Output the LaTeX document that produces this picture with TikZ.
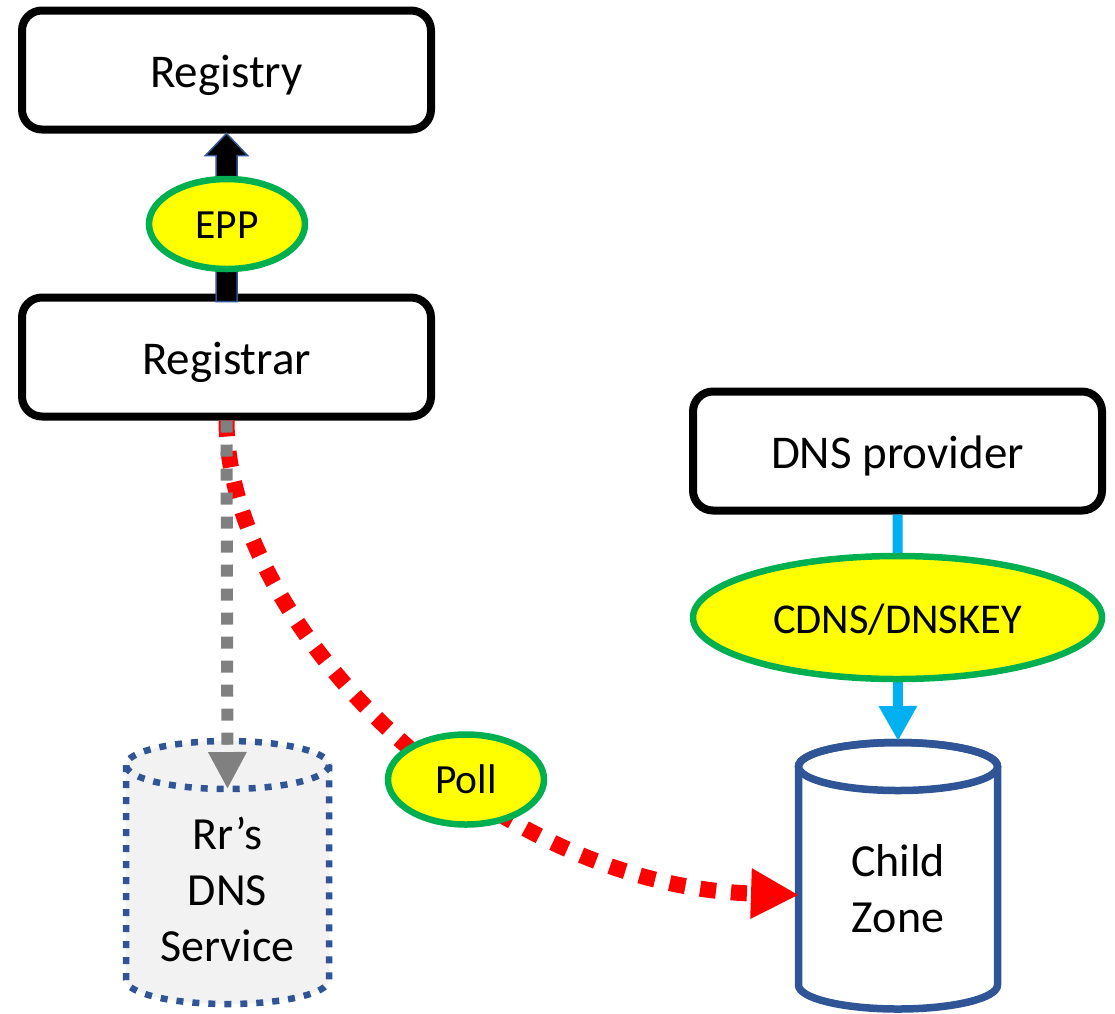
\documentclass[tikz,border=0pt]{standalone}
\usepackage{fontspec}
\setmainfont{Carlito}
\usetikzlibrary{shapes.geometric,arrows.meta,calc}
\definecolor{navy}{HTML}{2F5597}
\definecolor{ovalgreen}{HTML}{00B050}
\definecolor{ovalyellow}{HTML}{FFFF00}
\definecolor{connred}{HTML}{FF0000}
\definecolor{conngray}{HTML}{808080}
\definecolor{connblue}{HTML}{00B0F0}
\definecolor{lightfill}{HTML}{F2F2F2}
\begin{document}
\begin{tikzpicture}[x=1pt,y=-1pt,
  box/.style={draw=black,line width=8pt,rounded corners=20pt,fill=white,
    minimum width=409pt,minimum height=119pt,inner sep=0pt,
    font=\fontsize{47}{56}\selectfont,text height=34pt,text depth=0pt},
  oval/.style={ellipse,draw=ovalgreen,line width=6.5pt,fill=ovalyellow,inner sep=0pt,
    font=\fontsize{41.5}{50}\selectfont,text height=28pt,text depth=0pt},
  cyltext/.style={align=center,inner sep=0pt,font=\fontsize{46}{56}\selectfont},
  rrline/.style={draw=navy,line width=6.5pt,dash pattern=on 7pt off 9pt},
  czline/.style={draw=navy,line width=7.5pt},
  redconn/.style={draw=connred,line width=16pt,dash pattern=on 16pt off 15pt,
    -{Triangle[length=48pt,width=47pt]}},
  grayconn/.style={draw=conngray,line width=12pt,dash pattern=on 12pt off 12pt,
    -{Triangle[length=37pt,width=36pt]}},
  blueconn/.style={draw=connblue,line width=10pt,
    -{Triangle[length=35pt,width=36pt]}},
  fatarrow/.style={fill=black,draw=navy,line width=1.5pt,line join=miter}
]
\useasboundingbox (0,0) rectangle (1115,1013);

% boxes
\node[box] (registry) at (226.5,70) {Registry};
\node[box] (registrar) at (226.5,357) {Registrar};
\node[box] (provider) at (897.5,451) {DNS provider};

% Rr's DNS Service cylinder
\path[fill=lightfill] (126,765) -- (126,980)
  arc[start angle=180,end angle=0,x radius=101.5,y radius=24] -- (329,765)
  arc[start angle=0,end angle=-180,x radius=101.5,y radius=24] -- cycle;
\draw[rrline] (126,765) -- (126,980)
  arc[start angle=180,end angle=0,x radius=101.5,y radius=24] -- (329,765);
\draw[rrline] (227.5,765) ellipse[x radius=101.5,y radius=24];
\node[cyltext] (rrtext) at (227.5,889) {Rr’s\\DNS\\Service};
\coordinate (rrtop) at (227.5,789);

% Child Zone cylinder
\draw[czline,fill=white] (798.5,766.5) -- (798.5,985)
  arc[start angle=180,end angle=0,x radius=99.5,y radius=24] -- (997.5,766.5)
  arc[start angle=0,end angle=-180,x radius=99.5,y radius=24] -- cycle;
\draw[czline] (898,766.5) ellipse[x radius=99.5,y radius=24];
\node[cyltext] (cztext) at (898,888.5) {Child\\Zone};
\coordinate (czleft) at (799,895);
\coordinate (cztop) at (898,741);

% EPP fat arrow
\draw[fatarrow] ($(registrar.north)+(-10.5,8)$) -- ($(registry.south)+(-10.5,22)$)
  -- ($(registry.south)+(-21,22)$) -- (registry.south)
  -- ($(registry.south)+(21,22)$) -- ($(registry.south)+(10.5,22)$)
  -- ($(registrar.north)+(10.5,8)$) -- cycle;

% connectors
\draw[redconn] (registrar.south) .. controls (227,620) and (480,885) .. (czleft);
\draw[grayconn] (registrar.south) -- (rrtop);
\draw[blueconn] (provider.south) -- (cztop);

% labels
\node[oval,minimum width=156pt,minimum height=90pt] (epp) at (227,224) {EPP};
\node[oval,minimum width=156pt,minimum height=90pt] (poll) at (466,779.5) {Poll};
\node[oval,minimum width=409pt,minimum height=123pt,
  font=\fontsize{42.5}{51}\selectfont,text height=31pt] (cdns) at (897.5,617.5) {CDNS/DNSKEY};
\end{tikzpicture}
\end{document}
